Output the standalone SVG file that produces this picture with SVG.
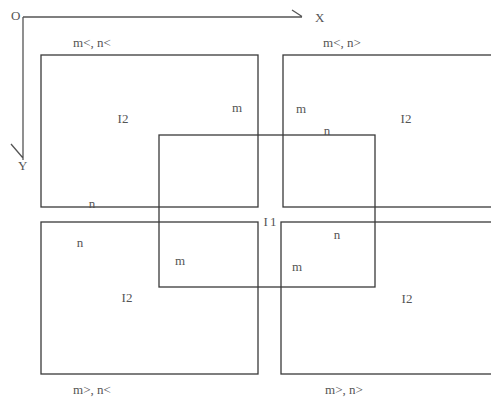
<svg xmlns="http://www.w3.org/2000/svg" width="491" height="400" viewBox="0 0 491 400">
<style>
.box{fill:none;stroke:#3a3a3a;stroke-width:1.3}
.ax{fill:none;stroke:#555;stroke-width:1.3}
text{font-family:"Liberation Serif","DejaVu Serif",serif;font-size:13px;fill:#555}
.lbl{text-anchor:middle}
</style>
<rect width="491" height="400" fill="#fff"/>
<g id="axes">
<path class="ax" d="M23,17 H302 M292,10 L302,16.5"/>
<path class="ax" d="M23,17 V160 M11,144 L23,158"/>
<text x="11" y="20">O</text>
<text x="315" y="22">X</text>
<text x="18" y="170">Y</text>
</g>
<g id="rect-tl"><rect class="box" x="41" y="55" width="217" height="152"/></g>
<g id="rect-tr"><rect class="box" x="283" y="55" width="215" height="152"/></g>
<g id="rect-bl"><rect class="box" x="41" y="222" width="217" height="152"/></g>
<g id="rect-br"><rect class="box" x="281" y="222" width="217" height="152"/></g>
<g id="rect-i1"><rect class="box" x="159" y="135" width="216" height="152"/></g>
<g id="connectors"></g>
<g id="labels">
<text class="lbl" x="92" y="47">m&lt;, n&lt;</text>
<text class="lbl" x="342" y="47">m&lt;, n&gt;</text>
<text class="lbl" x="92" y="394">m&gt;, n&lt;</text>
<text class="lbl" x="344" y="394">m&gt;, n&gt;</text>
<text class="lbl" x="123" y="123">I2</text>
<text class="lbl" x="406" y="123">I2</text>
<text class="lbl" x="127" y="302">I2</text>
<text class="lbl" x="407" y="303">I2</text>
<text class="lbl" x="271" y="226" letter-spacing="2">I1</text>
<text class="lbl" x="237" y="112">m</text>
<text class="lbl" x="301" y="113">m</text>
<text class="lbl" x="327" y="135">n</text>
<text class="lbl" x="92" y="208">n</text>
<text class="lbl" x="80" y="247">n</text>
<text class="lbl" x="180" y="265">m</text>
<text class="lbl" x="337" y="239">n</text>
<text class="lbl" x="297" y="271">m</text>
</g>
</svg>
